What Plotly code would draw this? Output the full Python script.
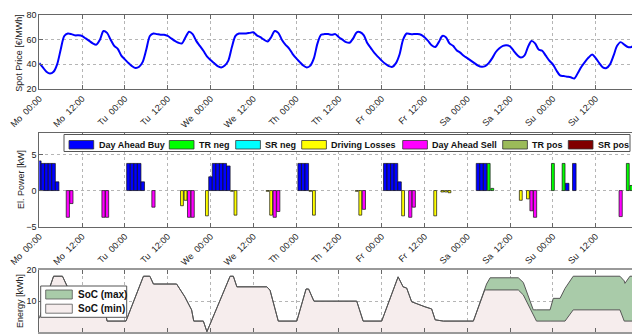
import plotly.graph_objects as go

# ---------------- data ----------------
# hourly day-ahead spot price over one week (hour 0 = Monday 00:00)
spot_price = [
    41, 37.5, 34, 32.5, 34, 40, 52, 63, 65, 64.5, 63.5, 63.5, 63, 61, 59, 57, 56, 60, 67, 65.5, 60, 55, 52.5, 47,
    44, 41, 38.5, 37, 38, 42, 52, 63, 65, 64.5, 64, 64, 63, 61, 59, 57.5, 57, 62, 66.5, 64.5, 59, 55, 51, 46.5,
    43.5, 41, 38.5, 37.5, 39, 43, 54, 63, 65, 65, 65, 65.5, 66, 63.5, 62, 60, 58.5, 62, 67, 65.5, 60, 56, 53, 48.5,
    45, 42, 39, 37.5, 39, 45, 57, 64, 64.5, 64.5, 64, 64.5, 62, 60, 58, 57.5, 61, 66, 66, 63.5, 57, 53, 49, 46,
    43, 40.5, 38.5, 38, 41, 48, 60, 65, 64.5, 64.5, 64.5, 64, 62, 59, 55.5, 54, 58, 63, 62, 57, 55, 51.5, 49.5, 47,
    45, 43, 41, 39, 38, 38.5, 41, 45, 50, 53, 55, 55.5, 54.5, 51, 47.5, 45.5, 47, 54, 59, 57, 52, 51, 47, 43,
    40, 35, 31, 30.5, 30, 29.5, 28.5, 33, 38, 42, 45.5, 48, 45, 41, 37.5, 37, 40, 47, 55, 58, 56, 54, 54, 56,
]

# electric power per market product [kW], (hour, value)
buy_hours = [0, 1, 2, 3, 4, 5, 25, 26, 27, 28, 29, 48, 49, 50, 51, 52, 53, 73, 74, 75, 97, 98, 99, 100, 101, 123, 124, 125, 148, 150]
buy_kw = [4.1, 3.75, 3.75, 3.75, 3.75, 1.2, 3.75, 3.75, 3.75, 3.75, 1.2, 1.9, 3.75, 3.75, 3.75, 3.75, 3.4, 3.75, 3.75, 3.75,
          3.75, 3.75, 3.75, 3.75, 1.2, 3.75, 3.75, 3.75, 1.0, 3.75]
tr_neg_hours = [126, 127, 144, 147, 165, 166]
tr_neg_kw = [3.75, 0.3, 3.75, 3.75, 3.75, 0.7]
sr_neg_hours, sr_neg_kw = [], []
loss_hours = [40, 41, 47, 54, 55, 64, 65, 76, 77, 89, 90, 102, 111, 113, 114, 115, 135, 137]
loss_kw = [-2.1, -1.35, -3.5, -0.1, -3.4, -0.1, -3.4, -0.1, -3.4, -0.1, -3.4, -3.5, -3.5, -0.2, -0.2, -0.3, -1.35, -1.15]
sell_hours = [8, 9, 18, 19, 32, 42, 43, 66, 67, 91, 104, 105, 138, 139, 163]
sell_kw = [-3.7, -1.8, -3.7, -3.7, -2.3, -3.7, -3.7, -3.7, -2.9, -2.6, -3.7, -2.3, -2.8, -3.7, -3.6]
tr_pos_hours, tr_pos_kw = [], []
sr_pos_hours, sr_pos_kw = [], []

# battery state of charge bounds [kWh]
soc_t = [0, 4, 6.5, 8, 9, 17.5, 19, 24.3, 29.2, 31, 32, 38.5, 40.8, 42.7, 43.3, 46, 47, 53.5, 54.4, 55.4,
         63.8, 64.7, 67, 72.2, 74.8, 75.5, 77, 89, 90.8, 96, 100.6, 102, 103, 104.4, 108.1, 110, 111, 113.3,
         121.7, 124.9, 125.4, 126.4, 134.3, 135.7, 138.5, 139.4, 143.2, 144.1, 146, 147.4, 149.7, 162.8, 164,
         164.2, 165.6, 168]
soc_min = [4.5, 18, 18, 14.3, 12.5, 12.5, 3.6, 3.6, 18, 18, 15.5, 15.5, 11.4, 7.2, 3.6, 3.6, 0.2, 18, 18, 14.6,
           14.6, 13.5, 3.6, 3.6, 13.9, 13.9, 10, 10, 3.6, 3.6, 17.8, 14.6, 14.2, 9.8, 8.2, 7.5, 4.0, 3.6,
           3.6, 13.6, 13.6, 13.6, 13.6, 12, 5.5, 3.6, 3.6, 3.6, 3.6, 3.6, 7.2, 7.2, 3.6,
           3.6, 3.6, 3.6]
soc_max = [4.5, 18, 18, 14.3, 12.5, 12.5, 3.6, 3.6, 18, 18, 15.5, 15.5, 11.4, 7.2, 3.6, 3.6, 0.2, 18, 18, 14.6,
           14.6, 13.5, 3.6, 3.6, 13.9, 13.9, 10, 10, 3.6, 3.6, 17.8, 14.6, 14.2, 9.8, 8.2, 7.5, 4.0, 3.6,
           3.6, 13.6, 15.5, 17.5, 17.5, 16, 7.2, 7.2, 7.2, 10.9, 10.9, 14.1, 18, 18, 16.5,
           15.7, 18, 18]

days = ["Mo", "Tu", "We", "Th", "Fr", "Sa", "Su"]
tick_hours = list(range(0, 168, 12))
tick_text = [f"{days[h // 24]}\u00a0 {h % 24:02d}:00" for h in tick_hours]

# ---------------- layout helpers ----------------
W, H = 632, 336
FONT = "Liberation Sans, Arial, sans-serif"


def fx(x):
    return x / W


def fy(y):
    return 1 - y / H


x_left = 39.3
x_end = (W - x_left) / 42.8 * 12      # hours visible across the axes width

fig = go.Figure()

hours = list(range(len(spot_price)))
fig.add_trace(go.Scatter(x=hours, y=spot_price, mode="lines",
                         line=dict(color="#0000FF", width=2, shape="spline", smoothing=0.8),
                         xaxis="x", yaxis="y"))

bar_series = [
    (buy_hours, buy_kw, "#0000FF", 1.0),
    (tr_neg_hours, tr_neg_kw, "#00FF00", 0.8),
    (sr_neg_hours, sr_neg_kw, "#00FFFF", 0.8),
    (loss_hours, loss_kw, "#FFFF00", 0.8),
    (sell_hours, sell_kw, "#FF00FF", 0.9),
    (tr_pos_hours, tr_pos_kw, "#9BBB59", 0.8),
    (sr_pos_hours, sr_pos_kw, "#800000", 0.8),
]
for hrs, vals, col, wd in bar_series:
    if not hrs:
        continue
    fig.add_trace(go.Bar(x=hrs, y=vals, width=wd, marker=dict(color=col, line=dict(color="#111", width=0.7)),
                         xaxis="x2", yaxis="y2"))

fig.add_trace(go.Scatter(x=soc_t, y=soc_min, mode="lines", fill="tozeroy", fillcolor="#F6EDED",
                         line=dict(color="#555", width=1), xaxis="x3", yaxis="y3"))
fig.add_trace(go.Scatter(x=soc_t, y=soc_max, mode="lines", fill="tonexty", fillcolor="#A9CBA9",
                         line=dict(color="#555", width=1), xaxis="x3", yaxis="y3"))

axis_common = dict(showline=True, linecolor="#666", linewidth=1, ticks="inside", ticklen=4, tickcolor="#666",
                   showgrid=True, gridcolor="#B5B5B5", griddash="dot", gridwidth=1, zeroline=False,
                   tickfont=dict(family=FONT, size=9, color="#222"), automargin=False)
xdom = [fx(x_left), 1.0]
xaxis_common = dict(axis_common, range=[0, x_end], tickvals=tick_hours, ticktext=tick_text, tickangle=-45,
                    mirror="ticks", domain=xdom)

fig.update_layout(
    width=W, height=H, margin=dict(l=0, r=0, t=0, b=0, pad=0),
    paper_bgcolor="white", plot_bgcolor="white", showlegend=False, barmode="overlay",
    xaxis=dict(xaxis_common, anchor="y"),
    yaxis=dict(axis_common, range=[20, 80], tickvals=[20, 40, 60, 80], domain=[fy(89), fy(15)], anchor="x"),
    xaxis2=dict(xaxis_common, anchor="y2"),
    yaxis2=dict(axis_common, range=[-5, 8], tickvals=[-5, 0, 5], domain=[fy(226.7), fy(132.7)], anchor="x2"),
    xaxis3=dict(xaxis_common, anchor="y3", showticklabels=False, linewidth=2, linecolor="#999"),
    yaxis3=dict(axis_common, range=[0, 20], tickvals=[0, 10, 20], domain=[fy(332.3), fy(270)], anchor="x3"),
)

# axis titles
for text, x, y in [("Spot Price [€/MWh]", 18.3, 52.5), ("El. Power [kW]", 21, 179), ("Energy [kWh]", 20, 301)]:
    fig.add_annotation(xref="paper", yref="paper", x=fx(x), y=fy(y), text=text, textangle=-90, showarrow=False,
                       font=dict(family=FONT, size=9, color="#222"), xanchor="center", yanchor="middle")

shapes = []
# power legend
shapes.append(dict(type="rect", xref="paper", yref="paper", x0=fx(64), x1=fx(630), y0=fy(151.5), y1=fy(134.5),
                   fillcolor="white", line=dict(color="#555", width=1)))
legend1 = [("Day Ahead Buy", "#0000FF", 69), ("TR neg", "#00FF00", 169.3), ("SR neg", "#00FFFF", 235.7),
           ("Driving Losses", "#FFFF00", 301.7), ("Day Ahead Sell", "#FF00FF", 402.7), ("TR pos", "#9BBB59", 502.7),
           ("SR pos", "#800000", 568.3)]
for label, col, x0 in legend1:
    shapes.append(dict(type="rect", xref="paper", yref="paper", x0=fx(x0), x1=fx(x0 + 24.7), y0=fy(149), y1=fy(140.5),
                       fillcolor=col, line=dict(color="#333", width=0.8)))
    fig.add_annotation(xref="paper", yref="paper", x=fx(x0 + 27.5), y=fy(145), text=f"<b>{label}</b>", showarrow=False,
                       xanchor="left", yanchor="middle", font=dict(family=FONT, size=9, color="#111"))

# energy legend
shapes.append(dict(type="rect", xref="paper", yref="paper", x0=fx(40.7), x1=fx(126.7), y0=fy(317.3), y1=fy(286),
                   fillcolor="white", line=dict(color="#555", width=1)))
for label, col, yc in [("SoC (max)", "#A9CBA9", 294.5), ("SoC (min)", "#F6EDED", 308.7)]:
    shapes.append(dict(type="rect", xref="paper", yref="paper", x0=fx(45.7), x1=fx(72.3), y0=fy(yc + 4.5), y1=fy(yc - 4.5),
                       fillcolor=col, line=dict(color="#555", width=0.8)))
    fig.add_annotation(xref="paper", yref="paper", x=fx(76), y=fy(yc), text=f"<b>{label}</b>", showarrow=False,
                       xanchor="left", yanchor="middle", font=dict(family=FONT, size=10, color="#111"))

fig.update_layout(shapes=shapes)
fig.write_html("out.html")
